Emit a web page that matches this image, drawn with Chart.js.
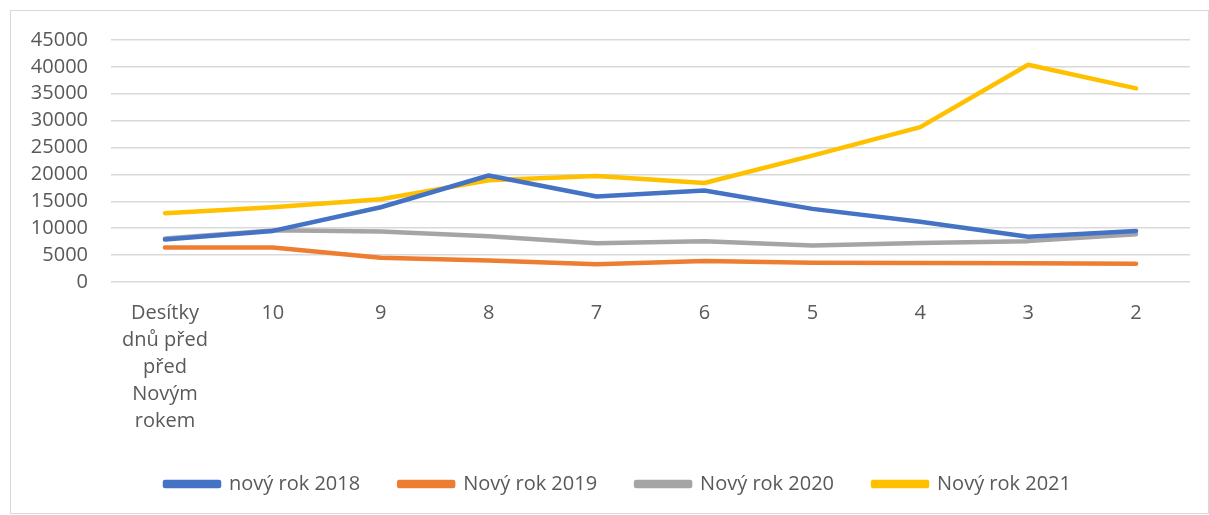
<!DOCTYPE html>
<html>
<head>
<meta charset="utf-8">
<script src="https://cdn.jsdelivr.net/npm/chart.js@4/dist/chart.umd.min.js"></script>
<style>
    html, body { margin: 0; padding: 0; background: #fff; overflow: hidden; }
    #wrap { position: absolute; left: 0; top: 0; width: 1209px; height: 504px; }
    #frame { position: absolute; left: 10px; top: 10px; width: 1197px; height: 502px;
             border: 1px solid #d9d9d9; pointer-events: none; }
</style>
</head>
<body>
<div id="wrap"><canvas id="lineChart"></canvas></div>
<div id="frame"></div>
<script>
const categories = [
    ['Desítky', 'dnů před', 'před', 'Novým', 'rokem'],
    '10', '9', '8', '7', '6', '5', '4', '3', '2'
];
const seriesNames = ['nový rok 2018', 'Nový rok 2019', 'Nový rok 2020', 'Nový rok 2021'];
const values2018 = [7900, 9500, 13900, 19800, 15900, 17000, 13600, 11200, 8400, 9500];
const values2019 = [6400, 6400, 4500, 4000, 3300, 3900, 3600, 3550, 3500, 3400];
const values2020 = [8100, 9600, 9400, 8500, 7200, 7600, 6800, 7250, 7600, 8900];
const values2021 = [12800, 13900, 15400, 18900, 19700, 18400, 23500, 28800, 40400, 36000];
const yTicks = [0, 5000, 10000, 15000, 20000, 25000, 30000, 35000, 40000, 45000];

const colors = ['#4472C4', '#ED7D31', '#A5A5A5', '#FFC000'];

document.addEventListener("DOMContentLoaded", () => {
    const ctx = document.getElementById("lineChart").getContext("2d");
    const allValues = [values2018, values2019, values2020, values2021];

    // nudge legend to the right, like the original
    const legendShift = {
        id: 'legendShift',
        afterLayout(chart) {
            if (chart.legend) {
                chart.legend.left += 23;
                chart.legend.right += 23;
            }
        }
    };

    new Chart(ctx, {
        type: 'line',
        data: {
            labels: categories,
            datasets: allValues.map((vals, i) => ({
                label: seriesNames[i],
                data: vals,
                borderColor: colors[i],
                backgroundColor: colors[i],
                borderWidth: 4.5,
                borderCapStyle: 'round',
                borderJoinStyle: 'round',
                pointRadius: 0,
                tension: 0,
            }))
        },
        options: {
            responsive: true,
            maintainAspectRatio: false,
            animation: false,
            layout: { padding: { top: 40, right: 19, left: 0, bottom: 0 } },
            plugins: {
                tooltip: { enabled: false },
                legend: {
                    position: 'bottom',
                    labels: {
                        boxWidth: 54,
                        boxHeight: 4,
                        padding: 39,
                        color: '#595959',
                        font: { family: 'Open Sans', size: 20 }
                    }
                }
            },
            scales: {
                x: {
                    offset: true,
                    grid: { display: false },
                    border: { display: false },
                    ticks: {
                        color: '#595959',
                        padding: 10,
                        maxRotation: 0,
                        autoSkip: false,
                        font: { family: 'Open Sans', size: 20, lineHeight: 1.35 }
                    },
                    afterFit: (scale) => { scale.height = 153; }
                },
                y: {
                    min: 0,
                    max: 45000,
                    afterBuildTicks: (scale) => { scale.ticks = yTicks.map(v => ({ value: v })); },
                    grid: { color: '#d9d9d9', lineWidth: 1.5, drawTicks: false },
                    border: { display: false },
                    ticks: {
                        color: '#595959',
                        padding: 23,
                        autoSkip: false,
                        font: { family: 'Open Sans', size: 20 },
                        callback: (v) => String(v)
                    },
                    afterFit: (scale) => { scale.width = 111; }
                }
            }
        },
        plugins: [legendShift]
    });
});
</script>
</body>
</html>
